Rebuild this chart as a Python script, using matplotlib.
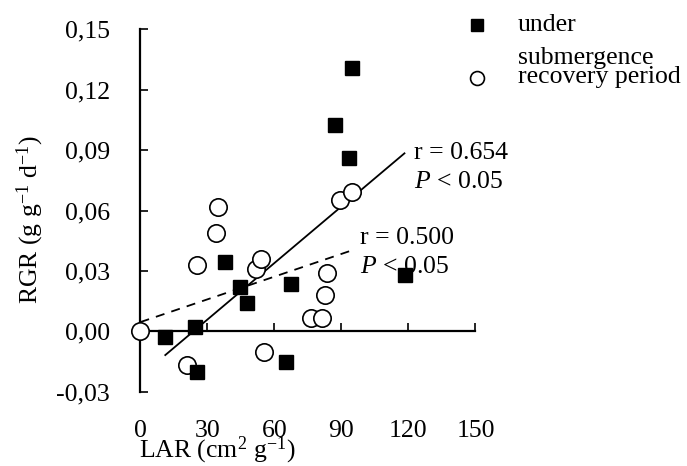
import numpy as np
import matplotlib.pyplot as plt

plt.rcParams['font.family'] = ['Liberation Serif', 'DejaVu Serif']
plt.rcParams['mathtext.fontset'] = 'custom'
plt.rcParams['mathtext.rm'] = 'Liberation Serif'
plt.rcParams['mathtext.it'] = 'Liberation Serif:italic'

# LAR (cm2 g-1) and RGR (g g-1 d-1)
under_lar = [11.1, 24.6, 25.3, 37.8, 44.6, 47.8, 67.5, 65.3, 118.4, 86.9, 94.8, 93.3]
under_rgr = [-0.0027, 0.0023, -0.0204, 0.0346, 0.0222, 0.0139, 0.0236, -0.0151,
             0.0280, 0.1025, 0.1306, 0.0859]

recov_lar = [0.0, 20.8, 25.1, 34.8, 33.8, 51.8, 53.9, 55.4, 76.4, 81.3, 82.8, 83.6,
             89.2, 94.8]
recov_rgr = [0.0, -0.0167, 0.0329, 0.0616, 0.0487, 0.0308, 0.0359, -0.0101,
             0.0065, 0.0065, 0.0180, 0.0288, 0.0650, 0.0691]

# regression lines (end points)
fit_under_x = [11.1, 118.2]
fit_under_y = [-0.0118, 0.0884]
fit_recov_x = [0.0, 94.1]
fit_recov_y = [0.0046, 0.0400]

xticks = [0, 30, 60, 90, 120, 150]
yticks = [-0.03, 0.0, 0.03, 0.06, 0.09, 0.12, 0.15]
ytick_labels = ['-0,03', '0,00', '0,03', '0,06', '0,09', '0,12', '0,15']

fs = 18.5

fig = plt.figure(figsize=(6.87, 4.66), dpi=100)
ax = fig.add_axes([0.2045, 0.1594, 0.4876, 0.7777])

ax.plot(fit_under_x, fit_under_y, color='black', lw=1.3, zorder=2)
ax.plot(fit_recov_x, fit_recov_y, color='black', lw=1.3, ls=(0, (5, 4)), zorder=2)

ax.plot(recov_lar, recov_rgr, 'o', ms=12.5, mfc='white', mec='black', mew=1.2,
        clip_on=False, zorder=3)
ax.plot(under_lar, under_rgr, 's', ms=10.5, mfc='black', mec='black',
        clip_on=False, zorder=4)

ax.set_xlim(0, 150)
ax.set_ylim(-0.03, 0.15)
ax.spines['top'].set_visible(False)
ax.spines['right'].set_visible(False)
ax.spines['bottom'].set_position(('data', 0))
for s in ['left', 'bottom']:
    ax.spines[s].set_linewidth(1.6)

ax.set_xticks(xticks)
ax.set_xticklabels([str(v) for v in xticks])
ax.set_yticks(yticks)
ax.set_yticklabels(ytick_labels)
ax.tick_params(axis='y', direction='in', length=6, width=1.2, labelsize=fs, pad=22)
ax.tick_params(axis='x', direction='in', length=6, width=1.2, labelsize=fs, pad=64)

ax.text(122.4, 0.0886, 'r = 0.654', fontsize=fs, va='center', ha='left')
ax.text(122.4, 0.0742, '$\\mathit{P}$ < 0.05', fontsize=fs, va='center', ha='left')
ax.text(98.1, 0.0463, 'r = 0.500', fontsize=fs, va='center', ha='left')
ax.text(98.1, 0.0319, '$\\mathit{P}$ < 0.05', fontsize=fs, va='center', ha='left')

fig.text(30 / 687, 1 - 220 / 466, 'RGR (g g$^{-1}$ d$^{-1}$)', rotation=90,
         fontsize=fs, ha='center', va='center')
fig.text(217 / 687, 1 - 450 / 466, 'LAR (cm$^{2}$ g$^{-1}$)',
         fontsize=fs, ha='center', va='center')

# legend
ax.plot([476.7 / 687], [1 - 25 / 466], 's', ms=9, color='black',
        transform=fig.transFigure, clip_on=False)
ax.plot([476.7 / 687], [1 - 78 / 466], 'o', ms=10, mfc='white', mec='black',
        mew=1.2, transform=fig.transFigure, clip_on=False)
fig.text(518 / 687, 1 - 25 / 466, 'under', fontsize=fs, va='center', ha='left')
fig.text(518 / 687, 1 - 58 / 466, 'submergence', fontsize=fs, va='center', ha='left')
fig.text(518 / 687, 1 - 77 / 466, 'recovery period', fontsize=fs, va='center', ha='left')

fig.savefig('out.png', dpi=100)
